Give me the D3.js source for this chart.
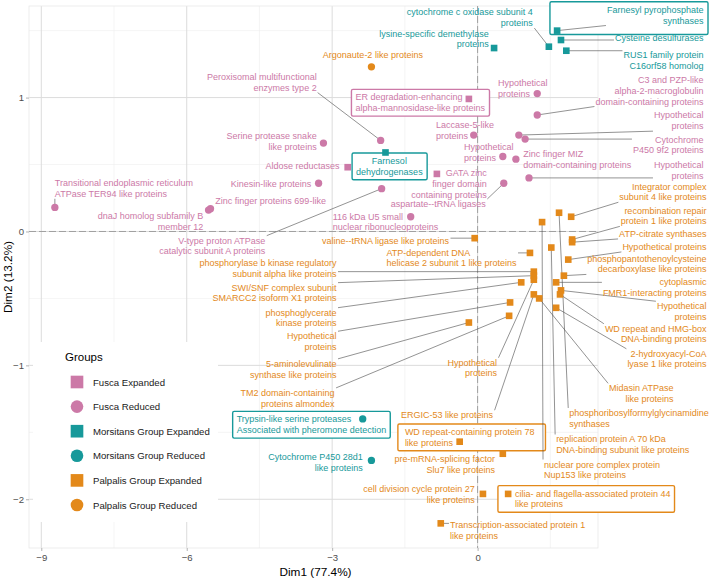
<!DOCTYPE html>
<html>
<head>
<meta charset="utf-8">
<script src="https://cdn.jsdelivr.net/npm/d3@7"></script>
<style>
  body { margin: 0; background: #fff; }
  svg { display: block; }
  text { font-family: "Liberation Sans", Arial, Helvetica, sans-serif; }
</style>
</head>
<body>
<svg id="chart" width="709" height="579"></svg>
<script>
// Groups shown in the legend
var groups = ['Fusca Expanded', 'Fusca Reduced', 'Morsitans Group Expanded',
  'Morsitans Group Reduced', 'Palpalis Group Expanded', 'Palpalis Group Reduced'];

// Protein family of each point (label text)
var proteins = [
  'Peroxisomal multifunctional\nenzymes type 2',
  'Serine protease snake\nlike proteins',
  'Aldose reductases',
  'Kinesin-like proteins',
  'Transitional endoplasmic reticulum\nATPase TER94 like proteins',
  'Zinc finger proteins 699-like',
  'dnaJ homolog subfamily B\nmember 12',
  'V-type proton ATPase\ncatalytic subunit A proteins',
  '116 kDa U5 small\nnuclear ribonucleoproteins',
  'Hypothetical\nproteins',
  'C3 and PZP-like\nalpha-2-macroglobulin\ndomain-containing proteins',
  'ER degradation-enhancing\nalpha-mannosidase-like proteins',
  'Laccase-5-like\nproteins',
  'Hypothetical\nproteins',
  'Cytochrome\nP450 9f2 proteins',
  'Hypothetical\nproteins',
  'Zinc finger MIZ\ndomain-containing proteins',
  'Hypothetical\nproteins',
  'GATA zinc\nfinger domain\ncontaining proteins',
  'aspartate--tRNA ligases',
  'cytochrome c oxidase subunit 4\nproteins',
  'Farnesyl pyrophosphate\nsynthases',
  'Cysteine desulfurases',
  'RUS1 family protein\nC16orf58 homolog',
  'lysine-specific demethylase\nproteins',
  'Farnesol\ndehydrogenases',
  'Trypsin-like serine proteases\nAssociated with pheromone detection',
  'Cytochrome P450 28d1\nlike proteins',
  'Argonaute-2 like proteins',
  'valine--tRNA ligase like proteins',
  'ATP-dependent DNA\nhelicase 2 subunit 1 like proteins',
  'phosphorylase b kinase regulatory\nsubunit alpha like proteins',
  'SWI/SNF complex subunit\nSMARCC2 isoform X1 proteins',
  'phosphoglycerate\nkinase proteins',
  'Hypothetical\nproteins',
  '5-aminolevulinate\nsynthase like proteins',
  'TM2 domain-containing\nproteins almondex',
  'Integrator complex\nsubunit 4 like proteins',
  'recombination repair\nprotein 1 like proteins',
  'ATP-citrate synthases',
  'Hypothetical proteins',
  'phosphopantothenoylcysteine\ndecarboxylase like proteins',
  'cytoplasmic\nFMR1-interacting proteins',
  'Hypothetical\nproteins',
  'WD repeat and HMG-box\nDNA-binding proteins',
  '2-hydroxyacyl-CoA\nlyase 1 like proteins',
  'Midasin ATPase\nlike proteins',
  'phosphoribosylformylglycinamidine\nsynthases',
  'replication protein A 70 kDa\nDNA-binding subunit like proteins',
  'nuclear pore complex protein\nNup153 like proteins',
  'Hypothetical\nproteins',
  'ERGIC-53 like proteins',
  'WD repeat-containing protein 78\nlike proteins',
  'pre-mRNA-splicing factor\nSlu7 like proteins',
  'cell division cycle protein 27\nlike proteins',
  'cilia- and flagella-associated protein 44\nlike proteins',
  'Transcription-associated protein 1\nlike proteins'
];

// Coordinates on the first two dimensions
var dim1 = [-2.00, -3.18, -2.68, -3.28, -8.72, -5.51, -5.55, -1.98, -1.38, 1.23,
  1.23, -0.18, -0.08, 0.85, 0.98, 0.52, 0.79, 1.06, -0.84, 0.54,
  1.47, 1.64, 1.72, 1.83, 0.34, -1.90, -2.37, -2.19, -2.19, -0.06,
  1.08, 1.16, 1.16, 0.90, 0.67, -0.18, 0.65, 1.93, 1.95, 1.95,
  1.87, 1.78, 1.62, 1.72, 1.70, 1.62, 1.27, 1.68, 1.52, 1.33,
  1.16, 1.16, -0.37, 0.52, 0.11, 0.63, -0.76];
var dim2 = [0.68, 0.66, 0.48, 0.36, 0.18, 0.17, 0.16, 0.32, 0.11, 1.03,
  0.87, 0.99, 0.72, 0.72, 0.69, 0.56, 0.54, 0.40, 0.43, 0.36,
  1.38, 1.50, 1.43, 1.35, 1.37, 0.59, -1.40, -1.71, 1.23, -0.05,
  -0.16, -0.30, -0.33, -0.38, -0.53, -0.68, -0.63, 0.11, -0.06, -0.08,
  -0.21, -0.33, -0.38, -0.44, -0.47, -0.57, -0.50, 0.14, -0.12, 0.07,
  -0.36, -0.47, -1.57, -1.66, -1.96, -1.96, -2.18];
// index into groups
var groupOf = [1, 1, 0, 1, 1, 1, 1, 1, 1, 1,
  1, 0, 1, 1, 1, 1, 1, 1, 0, 1,
  2, 2, 2, 2, 2, 2, 3, 3, 5, 4,
  4, 4, 4, 4, 4, 4, 4, 4, 4, 4,
  4, 4, 4, 4, 4, 4, 4, 4, 4, 4,
  4, 4, 4, 4, 4, 4, 4];

var xTicks = [-9, -6, -3, 0];
var yTicks = [-2, -1, 0, 1];

// Repelled label placement (data units): x of anchor, y of block centre, alignment, boxed,
// optional extra box margin in px [left, right, top, bottom]
var labelPlace = [
  [-3.32, 1.116, 'end', 0], [-3.32, 0.671, 'end', 0], [-2.85, 0.491, 'end', 0],
  [-3.43, 0.357, 'end', 0], [-8.72, 0.323, 'start', 0], [-5.41, 0.230, 'start', 0],
  [-5.66, 0.076, 'end', 0], [-4.38, -0.107, 'end', 0], [-2.99, 0.073, 'start', 0],
  [0.42, 1.071, 'start', 0], [4.66, 1.052, 'end', 0], [-2.52, 0.963, 'start', 1],
  [-0.86, 0.757, 'start', 0], [4.66, 0.828, 'end', 0], [4.66, 0.648, 'end', 0],
  [-0.28, 0.592, 'start', 0], [0.94, 0.540, 'start', 0], [4.66, 0.458, 'end', 0],
  [0.19, 0.357, 'end', 0], [0.17, 0.207, 'end', 0],
  [1.14, 1.598, 'end', 0], [4.66, 1.617, 'end', 1, [53, 0, 0, 6]], [4.66, 1.449, 'end', 0],
  [4.66, 1.280, 'end', 0], [0.23, 1.438, 'end', 0], [-1.82, 0.488, 'middle', 1],
  [-4.97, -1.442, 'start', 1], [-2.37, -1.726, 'end', 0],
  [-2.16, 1.322, 'middle', 0], [-0.59, -0.070, 'end', 0], [-1.88, -0.197, 'start', 0],
  [-2.91, -0.275, 'end', 0], [-2.91, -0.458, 'end', 0], [-2.91, -0.645, 'end', 0],
  [-2.91, -0.821, 'end', 0], [-2.91, -1.027, 'end', 0], [-2.95, -1.244, 'end', 0],
  [4.72, 0.297, 'end', 0], [4.72, 0.117, 'end', 0], [4.72, -0.017, 'end', 0],
  [4.72, -0.114, 'end', 0], [4.72, -0.242, 'end', 0], [4.72, -0.417, 'end', 0],
  [4.72, -0.597, 'end', 0], [4.72, -0.765, 'end', 0], [4.72, -0.952, 'end', 0],
  [4.04, -1.210, 'end', 0], [1.89, -1.394, 'start', 0], [1.62, -1.592, 'start', 0],
  [1.37, -1.779, 'start', 0], [0.40, -1.019, 'end', 0], [0.32, -1.371, 'end', 0],
  [-1.50, -1.536, 'start', 1, [3, 7, 0, 0]], [0.36, -1.737, 'end', 0], [-0.06, -1.962, 'end', 0],
  [0.77, -1.996, 'start', 1, [13, 0, 0, 0]], [-0.57, -2.231, 'start', 0]
];

var COLORS = ['#CC79A7', '#CC79A7', '#17999A', '#17999A', '#E3891A', '#E3891A'];
var SHAPES = ['square', 'circle', 'square', 'circle', 'square', 'circle'];

var svg = d3.select('#chart');
var panel = { left: 29, right: 598, top: 6, bottom: 548 };

function expand(ext) {
  var pad = (ext[1] - ext[0]) * 0.05;
  return [ext[0] - pad, ext[1] + pad];
}

var x = d3.scaleLinear().domain(expand(d3.extent(dim1))).range([panel.left, panel.right]);
var y = d3.scaleLinear().domain(expand(d3.extent(dim2))).range([panel.bottom, panel.top]);

var items = proteins.map(function (name, i) {
  var p = labelPlace[i];
  return {
    name: name, x: dim1[i], y: dim2[i], group: groupOf[i],
    lx: p[0], ly: p[1], anchor: p[2], boxed: p[3], extra: p[4] || [0, 0, 0, 0]
  };
});

// grid
var grid = svg.append('g');
var minorY = yTicks.map(function (t) { return t + 0.5; });
grid.selectAll('line.mx').data([-7.5, -4.5, -1.5, 1.5]).join('line')
  .attr('x1', x).attr('x2', x).attr('y1', panel.top).attr('y2', panel.bottom)
  .attr('stroke', '#efefef').attr('stroke-width', 0.6);
grid.selectAll('line.my').data(minorY).join('line')
  .attr('y1', y).attr('y2', y).attr('x1', panel.left).attr('x2', panel.right)
  .attr('stroke', '#efefef').attr('stroke-width', 0.6);
grid.selectAll('line.gx').data(xTicks).join('line')
  .attr('x1', x).attr('x2', x).attr('y1', panel.top).attr('y2', panel.bottom)
  .attr('stroke', '#dcdcdc').attr('stroke-width', 1);
grid.selectAll('line.gy').data(yTicks).join('line')
  .attr('y1', y).attr('y2', y).attr('x1', panel.left).attr('x2', panel.right)
  .attr('stroke', '#dcdcdc').attr('stroke-width', 1);
grid.append('rect')
  .attr('x', panel.left).attr('y', panel.top)
  .attr('width', panel.right - panel.left).attr('height', panel.bottom - panel.top)
  .attr('fill', 'none').attr('stroke', '#e8e8e8').attr('stroke-width', 0.8);

// zero lines
grid.append('line').attr('x1', panel.left).attr('x2', panel.right).attr('y1', y(0)).attr('y2', y(0))
  .attr('stroke', '#a0a0a0').attr('stroke-width', 1).attr('stroke-dasharray', '7,3');
grid.append('line').attr('x1', x(0)).attr('x2', x(0)).attr('y1', panel.top).attr('y2', panel.bottom)
  .attr('stroke', '#a0a0a0').attr('stroke-width', 1).attr('stroke-dasharray', '7,3');

// axes
var fmt = d3.format('');
var xAxis = svg.append('g').attr('transform', 'translate(0,' + panel.bottom + ')')
  .call(d3.axisBottom(x).tickValues(xTicks).tickSize(3).tickPadding(3).tickFormat(fmt));
var yAxis = svg.append('g').attr('transform', 'translate(' + panel.left + ',0)')
  .call(d3.axisLeft(y).tickValues(yTicks).tickSize(3).tickPadding(2).tickFormat(fmt));
[xAxis, yAxis].forEach(function (a) {
  a.select('.domain').remove();
  a.selectAll('.tick line').attr('stroke', '#b3b3b3');
  a.selectAll('.tick text').attr('fill', '#4d4d4d').attr('font-size', 9.6)
    .attr('font-family', '"Liberation Sans", Arial, sans-serif');
});

svg.append('text').attr('x', (panel.left + panel.right) / 2 + 2).attr('y', 576)
  .attr('text-anchor', 'middle').attr('font-size', 11.8).attr('fill', '#000').text('Dim1 (77.4%)');
svg.append('text').attr('transform', 'translate(12,' + ((panel.top + panel.bottom) / 2) + ') rotate(-90)')
  .attr('text-anchor', 'middle').attr('font-size', 11.8).attr('fill', '#000').text('Dim2 (13.2%)');

// labels with segments: boxes, then segments, then text
var LH = 10.7, FS = 9;
var boxLayer = svg.append('g');
var segLayer = svg.append('g');
var labLayer = svg.append('g');

items.forEach(function (d) {
  var lines = d.name.split('\n');
  var cx = x(d.lx), cy = y(d.ly);
  var t = labLayer.append('text').attr('text-anchor', d.anchor).attr('font-size', FS)
    .attr('fill', COLORS[d.group]);
  lines.forEach(function (s, i) {
    t.append('tspan').attr('x', cx)
      .attr('y', cy + (i - (lines.length - 1) / 2) * LH + 3.2).text(s);
  });
  var bb = t.node().getBBox();
  var tb = { x1: bb.x - 1, x2: bb.x + bb.width + 1, y1: bb.y, y2: bb.y + bb.height };
  if (d.boxed) {
    var e = d.extra;
    var bx1 = bb.x - 4 - e[0], bx2 = bb.x + bb.width + 4 + e[1];
    var by1 = bb.y - 3 - e[2], by2 = bb.y + bb.height + 3 + e[3];
    boxLayer.append('rect')
      .attr('x', bx1).attr('y', by1)
      .attr('width', bx2 - bx1).attr('height', by2 - by1)
      .attr('rx', 1.5).attr('fill', '#fff')
      .attr('stroke', COLORS[d.group]).attr('stroke-width', 1.4);
  }
  var px = x(d.x), py = y(d.y);
  var ex = Math.max(tb.x1, Math.min(tb.x2, px));
  var ey = Math.max(tb.y1, Math.min(tb.y2, py));
  if (Math.hypot(ex - px, ey - py) > 8) {
    segLayer.append('line')
      .attr('x1', px).attr('y1', py).attr('x2', ex).attr('y2', ey)
      .attr('stroke', '#4a4a4a').attr('stroke-width', 0.6);
  }
});

// points
var sym = function (shape, size) {
  return d3.symbol().type(shape === 'square' ? d3.symbolSquare : d3.symbolCircle).size(size)();
};
svg.append('g').selectAll('path').data(items).join('path')
  .attr('transform', function (d) { return 'translate(' + x(d.x) + ',' + y(d.y) + ')'; })
  .attr('d', function (d) { return SHAPES[d.group] === 'square' ? sym('square', 44) : sym('circle', 42); })
  .attr('fill', function (d) { return COLORS[d.group]; });

// legend
var leg = svg.append('g');
leg.append('rect').attr('x', 33).attr('y', 342).attr('width', 185).attr('height', 180).attr('fill', '#fff');
leg.append('text').attr('x', 65).attr('y', 361).attr('font-size', 11.5).attr('fill', '#000').text('Groups');
groups.forEach(function (name, i) {
  var ky = 382 + i * 24.6;
  leg.append('path').attr('transform', 'translate(77,' + ky + ')')
    .attr('d', SHAPES[i] === 'square' ? sym('square', 160) : sym('circle', 125))
    .attr('fill', COLORS[i]);
  leg.append('text').attr('x', 93).attr('y', ky + 3.5).attr('font-size', 9.6)
    .attr('fill', '#1a1a1a').text(name);
});
</script>
</body>
</html>
